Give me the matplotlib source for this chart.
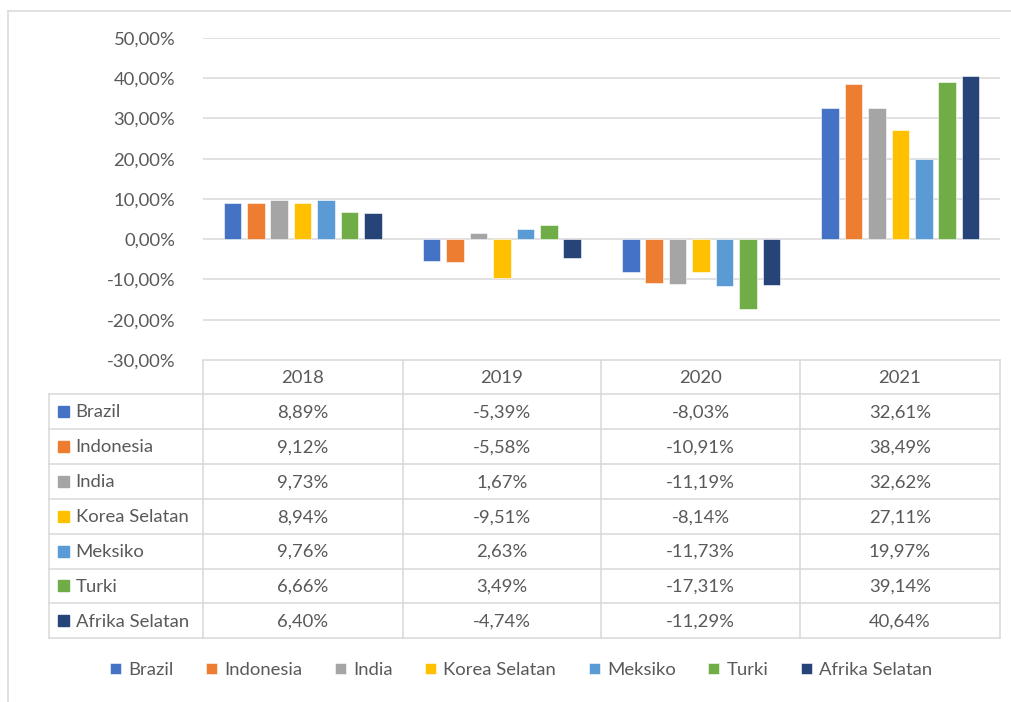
import matplotlib.pyplot as plt
from matplotlib.patches import Rectangle
from matplotlib.lines import Line2D
import numpy as np

plt.rcParams["font.family"] = ["Lato", "DejaVu Sans"]

years = ["2018", "2019", "2020", "2021"]
countries = ["Brazil", "Indonesia", "India", "Korea Selatan", "Meksiko", "Turki", "Afrika Selatan"]
colors = ["#4472C4", "#ED7D31", "#A5A5A5", "#FFC000", "#5B9BD5", "#70AD47", "#264478"]

brazil = [8.89, -5.39, -8.03, 32.61]
indonesia = [9.12, -5.58, -10.91, 38.49]
india = [9.73, 1.67, -11.19, 32.62]
korea = [8.94, -9.51, -8.14, 27.11]
meksiko = [9.76, 2.63, -11.73, 19.97]
turki = [6.66, 3.49, -17.31, 39.14]
afrika = [6.40, -4.74, -11.29, 40.64]
series = [brazil, indonesia, india, korea, meksiko, turki, afrika]

yticks = [50, 40, 30, 20, 10, 0, -10, -20, -30]

GRID = "#D9D9D9"
TXT = "#595959"
FS = 13.3
W, H = 1011, 702

fig = plt.figure(figsize=(W / 100, H / 100), dpi=100)

# chart area in pixel coords
x0, x1, ytop, ybot = 203, 1000, 38, 360
ax = fig.add_axes([x0 / W, 1 - ybot / H, (x1 - x0) / W, (ybot - ytop) / H])
ax.set_xlim(0, len(years))
ax.set_ylim(-30, 50)

step = 0.1176
bw = 0.088
x = np.arange(len(years)) + 0.5
for i, (vals, c, name) in enumerate(zip(series, colors, countries)):
    ax.bar(x + (i - 3) * step, vals, width=bw, color=c, label=name,
           edgecolor="white", linewidth=0.4, zorder=3)

ax.set_yticks(yticks)
ax.set_yticklabels([f"{v:.2f}%".replace(".", ",") for v in yticks],
                   color=TXT, fontsize=FS)
ax.tick_params(axis="y", length=0, pad=20)
ax.set_xticks([])
ax.grid(axis="y", color=GRID, linewidth=1.1, zorder=0)
for s in ax.spines.values():
    s.set_visible(False)

# overlay for frame and data table
ov = fig.add_axes([0, 0, 1, 1], zorder=-1)
ov.set_xlim(0, W)
ov.set_ylim(H, 0)
ov.axis("off")

def hline(y, xa, xb):
    ov.add_line(Line2D([xa, xb], [y, y], color=GRID, linewidth=1.1))

def vline(xp, ya, yb):
    ov.add_line(Line2D([xp, xp], [ya, yb], color=GRID, linewidth=1.1))

# outer chart border (top and left visible)
hline(11, 8, W)
vline(8, 11, H)

col_x = [203, 403, 601, 800, 1000]
label_x = 49
head_top, head_bot = 360, 394
row_h = 34.9
table_bot = head_bot + row_h * len(countries)

hline(head_top, col_x[0], col_x[-1])
for r in range(len(countries) + 1):
    hline(head_bot + r * row_h, label_x, col_x[-1])
for xp in col_x:
    vline(xp, head_top, table_bot)
vline(label_x, head_bot, table_bot)

for j, yr in enumerate(years):
    cx = (col_x[j] + col_x[j + 1]) / 2
    ov.text(cx, (head_top + head_bot) / 2 + 1, yr, ha="center", va="center",
            fontsize=FS, color=TXT)

for r, (name, c, vals) in enumerate(zip(countries, colors, series)):
    cy = head_bot + (r + 0.5) * row_h
    ov.add_patch(Rectangle((57.5, cy - 5.5), 11, 11, color=c))
    ov.text(75.5, cy + 1, name, ha="left", va="center", fontsize=FS, color=TXT)
    for j, v in enumerate(vals):
        cx = (col_x[j] + col_x[j + 1]) / 2
        ov.text(cx, cy + 1, f"{v:.2f}%".replace(".", ","), ha="center",
                va="center", fontsize=FS, color=TXT)

fig.legend(loc="center", bbox_to_anchor=(521 / W, 1 - 670 / H), ncol=7,
           frameon=False, fontsize=FS, labelcolor=TXT, handlelength=0.6,
           handleheight=0.6, handletextpad=0.4, columnspacing=1.75)

fig.savefig("out.png", dpi=100, facecolor="white")
